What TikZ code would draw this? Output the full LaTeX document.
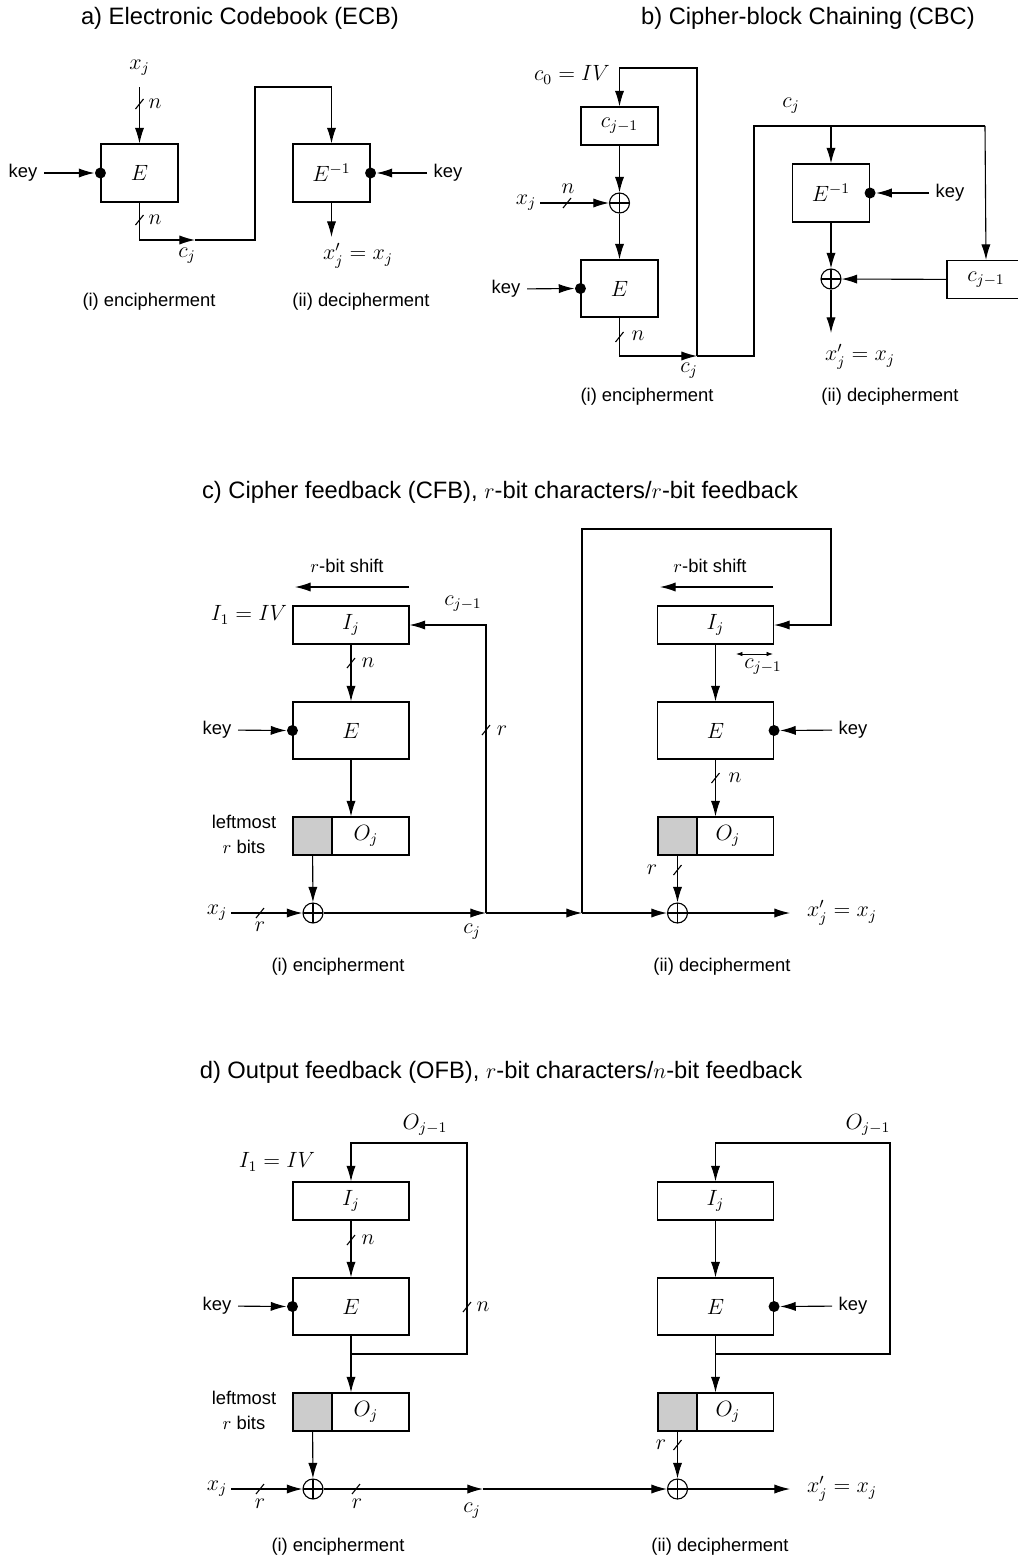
\documentclass[tikz,border=0pt]{standalone}
\usepackage{fontspec}
\setmainfont{Liberation Sans}
\usetikzlibrary{arrows.meta}
\newcommand{\pxu}{0.5435pt}
\newcommand{\ttlfont}{\fontsize{12.9pt}{15pt}\selectfont}
\newcommand{\bitcut}[1]{\draw (#1) ++(-4,5) -- ++(8,-10);}
\begin{document}
\begin{tikzpicture}[x=\pxu, y=-\pxu, line width=0.6pt,
  >={Latex[length=8.5pt,width=5pt]},
  regbox/.style={draw, inner sep=0pt, font=\large, minimum width=116*\pxu, minimum height=38*\pxu},
  tallbox/.style={regbox, minimum height=57*\pxu},
  ecbbox/.style={regbox, minimum width=77*\pxu, minimum height=58*\pxu},
  cbcbox/.style={regbox, minimum width=77*\pxu},
  graybox/.style={draw, fill=gray!40, inner sep=0pt, minimum width=39*\pxu, minimum height=38*\pxu},
  xorgate/.style={circle, draw, inner sep=0pt, minimum size=20*\pxu,
    path picture={\draw (path picture bounding box.north) -- (path picture bounding box.south)
      (path picture bounding box.west) -- (path picture bounding box.east);}},
  keydot/.style={circle, fill, inner sep=0pt, minimum size=11*\pxu},
  mlabel/.style={font=\large, inner sep=2pt},
  heading/.style={font=\ttlfont},
  twolines/.style={align=center, font=\fontsize{10pt}{13.6pt}\selectfont}]
\useasboundingbox (0,0) rectangle (1017,1562);

% a) ECB
\node[heading] (ta) at (240,18) {a) Electronic Codebook (ECB)};
\node[ecbbox] (aE) at (139.5,173) {$E$};
\node[ecbbox] (aD) at (331.5,173) {$E^{-1}$};
\node[keydot] (aEk) at (aE.west) {};
\node[keydot] (aDk) at (aD.east) {};
\node (akey1) at (23,173) {key};
\node (akey2) at (448,173) {key};
\node[mlabel] (axj) at (139.5,68) {$x_j$};
\node[mlabel] (acj) at (187,256) {$c_j$};
\node[mlabel] (aout) at (358,256) {$x'_j = x_j$};
\node[mlabel] (an1) at (155,104) {$n$};
\node[mlabel] (an2) at (155,220) {$n$};
\coordinate (aIn) at (139.5,87);
\coordinate (aMid) at (195,240);
\coordinate (aUp) at (255,87);
\coordinate (aEnd) at (331.5,237);
\draw[->] (aIn) -- (aE.north);
\draw[->] (akey1) -- (aEk);
\draw[->] (akey2) -- (aDk);
\draw[->] (aE.south) |- (aMid);
\draw[->] (aMid) -| (aUp) -| (aD.north);
\draw[->] (aD.south) -- (aEnd);
\bitcut{139.5,104}
\bitcut{139.5,220}
\node (ai) at (149,302) {(i) encipherment};
\node (aii) at (361,302) {(ii) decipherment};

% b) CBC
\node[heading] (tb) at (808,18) {b) Cipher-block Chaining (CBC)};
\node[cbcbox] (bC) at (619.5,126) {$c_{j-1}$};
\node[xorgate] (bX) at (619.5,203) {};
\node[tallbox, minimum width=77*\pxu] (bE) at (619.5,288.5) {$E$};
\node[keydot] (bEk) at (bE.west) {};
\node[ecbbox] (bD) at (831,193) {$E^{-1}$};
\node[keydot] (bDk) at (bD.east) {};
\node[xorgate] (bX2) at (831,279) {};
\node[cbcbox, minimum width=78*\pxu] (bC2) at (986,279.5) {$c_{j-1}$};
\node (bkey1) at (506,289) {key};
\node (bkey2) at (950,193) {key};
\node[mlabel] (bIV) at (572,75) {$c_0 = IV$};
\node[mlabel] (bxj) at (526,203) {$x_j$};
\node[mlabel] (bn1) at (568,189) {$n$};
\node[mlabel] (bn2) at (638,336) {$n$};
\node[mlabel] (bcj1) at (689,371) {$c_j$};
\node[mlabel] (bcj2) at (791,106) {$c_j$};
\node[mlabel] (bout) at (860,357) {$x'_j = x_j$};
\coordinate (bJ) at (697,356);
\coordinate (bTop) at (697,68);
\coordinate (bK) at (754,126);
\coordinate (bL) at (985,126);
\coordinate (bEnd) at (831,333);
\draw[->] (bJ) -- (bTop) -| (bC.north);
\draw[->] (bC) -- (bX);
\draw[->] (bX) -- (bE);
\draw[->] (bxj) -- (bX);
\draw[->] (bkey1) -- (bEk);
\draw[->] (bE.south) |- (bJ);
\draw (bJ) -| (bK) -- (bL);
\draw[->] (bD.north |- bK) -- (bD.north);
\draw[->] (bL) -- (bC2.north);
\draw[->] (bkey2) -- (bDk);
\draw[->] (bD) -- (bX2);
\draw[->] (bC2) -- (bX2);
\draw[->] (bX2) -- (bEnd);
\bitcut{567,203}
\bitcut{619.5,337}
\node (bi) at (647,397) {(i) encipherment};
\node (bii) at (890,397) {(ii) decipherment};

% c) CFB
\node[heading] (tc) at (500,492) {c) Cipher feedback (CFB), $r$-bit characters/$r$-bit feedback};
\node[regbox] (cIe) at (351,625) {$I_j$};
\node[tallbox] (cEe) at (351,730.5) {$E$};
\node[regbox] (cOe) at (351,836) {};
\node[graybox] (cGe) at (312.5,836) {};
\node[mlabel] (cOje) at (366,836) {$O_j$};
\node[xorgate] (cXe) at (313,913) {};
\node[keydot] (cEke) at (cEe.west) {};
\node (ckey1) at (217,730) {key};
\node[mlabel] (cIV) at (249,615) {$I_1 = IV$};
\node (cshift1) at (347,566) {$r$-bit shift};
\node[mlabel] (cc1) at (463,604) {$c_{j-1}$};
\node[mlabel] (cn1) at (368,663) {$n$};
\node[mlabel] (cr1) at (502,731) {$r$};
\node[twolines] (clm) at (244,834) {leftmost\\$r$ bits};
\node[mlabel] (cxj) at (217,913) {$x_j$};
\node[mlabel] (cr2) at (260,927) {$r$};
\node[mlabel] (ccj) at (472,932) {$c_j$};
\coordinate (cS1) at (409,587);
\coordinate (cS2) at (295,587);
\coordinate (cJ1) at (486,913);
\coordinate (cJ2) at (582,913);
\coordinate (cT1) at (582,529);
\coordinate (cT2) at (831,529);
\draw[->] (cS1) -- (cS2);
\draw[->] (cIe) -- (cEe);
\draw[->] (cEe) -- (cOe);
\draw[->] (cGe) -- (cXe);
\draw[->] (ckey1) -- (cEke);
\draw[->] (cxj) -- (cXe);
\draw[->] (cXe) -- (cJ1);
\draw[->] (cJ1) |- (cIe.east);
\draw[->] (cJ1) -- (cJ2);
\bitcut{351,663}
\bitcut{486,730}
\bitcut{260,913}
\node[regbox] (cId) at (715.5,625) {$I_j$};
\node[tallbox] (cEd) at (715.5,730.5) {$E$};
\node[regbox] (cOd) at (715.5,836) {};
\node[graybox] (cGd) at (677.5,836) {};
\node[mlabel] (cOjd) at (728,836) {$O_j$};
\node[xorgate] (cXd) at (677.5,913) {};
\node[keydot] (cEkd) at (cEd.east) {};
\node (ckey2) at (853,730) {key};
\node (cshift2) at (710,566) {$r$-bit shift};
\node[mlabel] (cc2) at (763,667) {$c_{j-1}$};
\node[mlabel] (cn2) at (735,778) {$n$};
\node[mlabel] (cr3) at (652,870) {$r$};
\node[mlabel] (cout) at (842,913) {$x'_j = x_j$};
\coordinate (cS3) at (773,587);
\coordinate (cS4) at (660,587);
\coordinate (cW1) at (736,654);
\coordinate (cW2) at (773,654);
\coordinate (cEnd) at (790,913);
\draw[->] (cS3) -- (cS4);
\draw[{Latex[length=3.5pt,width=2.4pt]}-{Latex[length=3.5pt,width=2.4pt]}, line width=0.4pt] (cW1) -- (cW2);
\draw[->] (cJ2) -- (cT1) -- (cT2) |- (cId.east);
\draw[->] (cJ2) -- (cXd);
\draw[->] (cId) -- (cEd);
\draw[->] (cEd) -- (cOd);
\draw[->] (ckey2) -- (cEkd);
\draw[->] (cGd) -- (cXd);
\draw[->] (cXd) -- (cEnd);
\bitcut{715.5,778}
\bitcut{677.5,870}
\node (ci) at (338,967) {(i) encipherment};
\node (cii) at (722,967) {(ii) decipherment};

% d) OFB
\node[heading] (td) at (501,1072) {d) Output feedback (OFB), $r$-bit characters/$n$-bit feedback};
\node[regbox] (dIe) at (351,1201) {$I_j$};
\node[tallbox] (dEe) at (351,1306.5) {$E$};
\node[regbox] (dOe) at (351,1412) {};
\node[graybox] (dGe) at (312.5,1412) {};
\node[mlabel] (dOje) at (366,1412) {$O_j$};
\node[xorgate] (dXe) at (313,1489) {};
\node[keydot] (dEke) at (dEe.west) {};
\node (dkey1) at (217,1306) {key};
\node[mlabel] (dIV) at (277,1162) {$I_1 = IV$};
\node[mlabel] (dOo1) at (425,1125) {$O_{j-1}$};
\node[mlabel] (dn1) at (368,1240) {$n$};
\node[mlabel] (dn2) at (483,1307) {$n$};
\node[twolines] (dlm) at (244,1410) {leftmost\\$r$ bits};
\node[mlabel] (dxj) at (217,1489) {$x_j$};
\node[mlabel] (dr1) at (260,1504) {$r$};
\node[mlabel] (dr2) at (357,1504) {$r$};
\node[mlabel] (dcj) at (472,1511) {$c_j$};
\coordinate (dJe) at (351,1354);
\coordinate (dRe) at (467,1354);
\coordinate (dTe) at (467,1143);
\coordinate (dMid) at (483,1489);
\draw (dEe.south) -- (dJe);
\draw[->] (dJe) -- (dOe.north);
\draw[->] (dJe) -- (dRe) -- (dTe) -| (dIe.north);
\draw[->] (dIe) -- (dEe);
\draw[->] (dkey1) -- (dEke);
\draw[->] (dGe) -- (dXe);
\draw[->] (dxj) -- (dXe);
\draw[->] (dXe) -- (dMid);
\bitcut{351,1240}
\bitcut{467,1307}
\bitcut{260,1489}
\bitcut{356,1489}
\node[regbox] (dId) at (715.5,1201) {$I_j$};
\node[tallbox] (dEd) at (715.5,1306.5) {$E$};
\node[regbox] (dOd) at (715.5,1412) {};
\node[graybox] (dGd) at (677.5,1412) {};
\node[mlabel] (dOjd) at (728,1412) {$O_j$};
\node[xorgate] (dXd) at (677.5,1489) {};
\node[keydot] (dEkd) at (dEd.east) {};
\node (dkey2) at (853,1306) {key};
\node[mlabel] (dOo2) at (868,1125) {$O_{j-1}$};
\node[mlabel] (dr3) at (661,1445) {$r$};
\node[mlabel] (dout) at (842,1489) {$x'_j = x_j$};
\coordinate (dJd) at (715.5,1354);
\coordinate (dRd) at (890,1354);
\coordinate (dTd) at (890,1143);
\coordinate (dEnd) at (790,1489);
\draw[->] (dMid) -- (dXd);
\draw (dEd.south) -- (dJd);
\draw[->] (dJd) -- (dOd.north);
\draw[->] (dJd) -- (dRd) -- (dTd) -| (dId.north);
\draw[->] (dId) -- (dEd);
\draw[->] (dkey2) -- (dEkd);
\draw[->] (dGd) -- (dXd);
\draw[->] (dXd) -- (dEnd);
\bitcut{677.5,1445}
\node (di) at (338,1547) {(i) encipherment};
\node (dii) at (720,1547) {(ii) decipherment};
\end{tikzpicture}
\end{document}
